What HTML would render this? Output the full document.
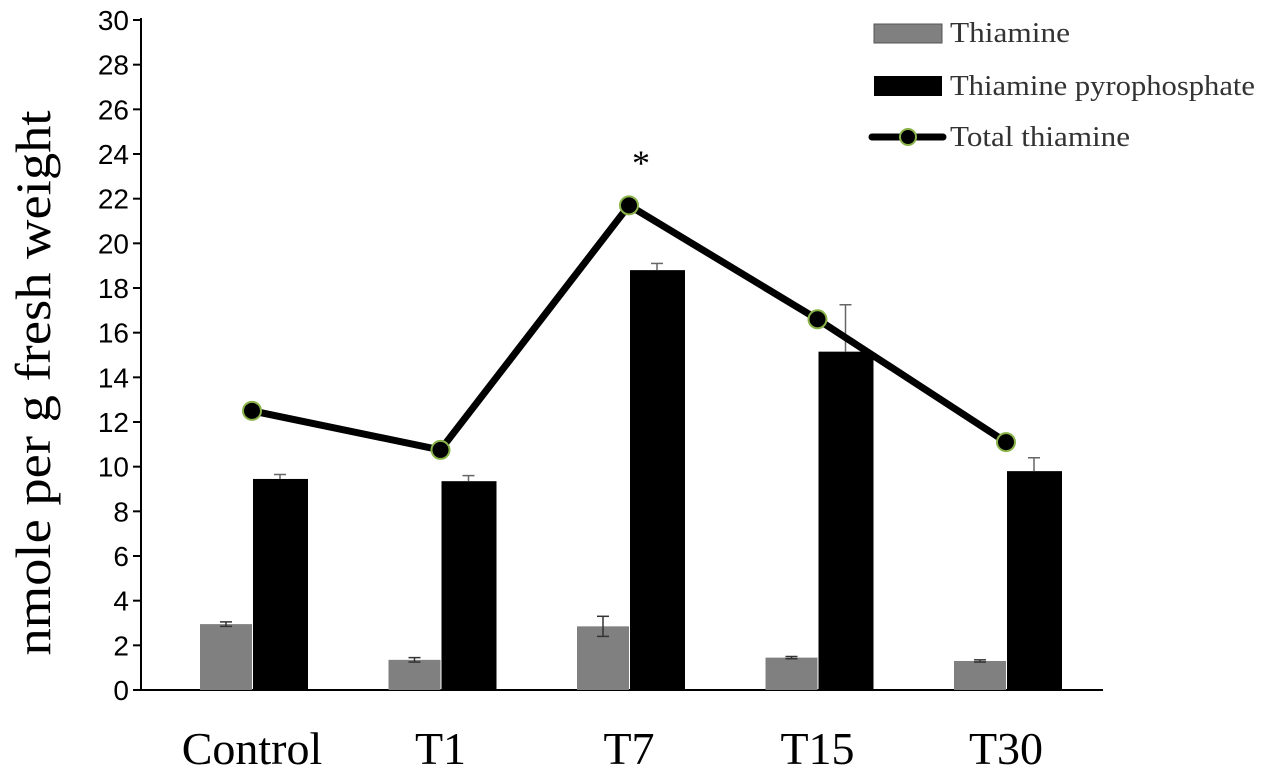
<!DOCTYPE html>
<html><head><meta charset="utf-8"><style>
body{margin:0;background:#fff;}
svg{display:block;font-family:"Liberation Serif",serif;}
.tick{font-family:"Liberation Sans",sans-serif;font-size:28px;}
</style></head><body>
<svg id="chart" width="1267" height="772">
<g id="axes"></g><g id="bars"></g><g id="line"></g>
<text x="641" y="175" font-size="36" text-anchor="middle">*</text>
<text transform="translate(50,383) rotate(-90)" font-size="50" text-anchor="middle" textLength="545" lengthAdjust="spacingAndGlyphs">nmole per g fresh weight</text>
<g>
<rect x="874" y="24" width="68" height="19" fill="#808080" stroke="#555" stroke-width="1"/>
<text x="950" y="42" font-size="28" fill="#333" textLength="120" lengthAdjust="spacingAndGlyphs">Thiamine</text>
<rect x="874" y="76" width="68" height="20" fill="#000"/>
<text x="950" y="95" font-size="28" fill="#333" textLength="305" lengthAdjust="spacingAndGlyphs">Thiamine pyrophosphate</text>
<line x1="872" y1="137" x2="943" y2="137" stroke="#000" stroke-width="7" stroke-linecap="round"/>
<circle cx="908" cy="137" r="8" fill="#000" stroke="#8ab34a" stroke-width="2"/>
<text x="950" y="146" font-size="28" fill="#333" textLength="180" lengthAdjust="spacingAndGlyphs">Total thiamine</text>
</g>
</svg>
<script>
const categories=["Control","T1","T7","T15","T30"];
const thiamine=[2.95,1.35,2.85,1.45,1.3];
const thiamineErr=[0.1,0.1,0.45,0.05,0.05];
const tpp=[9.45,9.35,18.8,15.15,9.8];
const tppErr=[0.2,0.25,0.3,2.1,0.6];
const total=[12.5,10.75,21.7,16.6,11.1];
const yTicks=[0,2,4,6,8,10,12,14,16,18,20,22,24,26,28,30];
const NS="http://www.w3.org/2000/svg";
const y=v=>690-v*22.333;
const xc=i=>252+i*188.5;
function mk(tag,attrs,parent){const e=document.createElementNS(NS,tag);for(const k in attrs)e.setAttribute(k,attrs[k]);document.getElementById(parent).appendChild(e);return e;}
let e=mk("line",{x1:141,y1:18,x2:141,y2:691,stroke:"#000","stroke-width":2},"axes");


e=mk("line",{x1:140,y1:690,x2:1103,y2:690,stroke:"#000","stroke-width":2},"axes");


yTicks.forEach(t=>{
 mk("line",{x1:133,y1:y(t),x2:141,y2:y(t),stroke:"#000","stroke-width":2},"axes");
 const tx=mk("text",{x:129,y:y(t)+10,"text-anchor":"end",class:"tick"},"axes");tx.textContent=t;
 
 
});
categories.forEach((c,i)=>{
 const tx=mk("text",{x:xc(i),y:764,"text-anchor":"middle","font-size":46},"axes");tx.textContent=c;
 
 
});
function err(cx,v,d,col,up){
 mk("line",{x1:cx,y1:y(v+d),x2:cx,y2:up?y(v):y(v-d),stroke:col,"stroke-width":1.5},"bars");
 mk("line",{x1:cx-6,y1:y(v+d),x2:cx+6,y2:y(v+d),stroke:col,"stroke-width":1.5},"bars");
 if(!up)mk("line",{x1:cx-6,y1:y(v-d),x2:cx+6,y2:y(v-d),stroke:col,"stroke-width":1.5},"bars");
}
categories.forEach((c,i)=>{
 const g=mk("rect",{x:xc(i)-52,y:y(thiamine[i]),width:52,height:690-y(thiamine[i]),fill:"#808080"},"bars");
 
 
 err(xc(i)-26,thiamine[i],thiamineErr[i],"#333",false);
 const b=mk("rect",{x:xc(i)+1,y:y(tpp[i]),width:55,height:690-y(tpp[i]),fill:"#000"},"bars");
 
 
 err(xc(i)+28,tpp[i],tppErr[i],"#666",true);
});
const pl=mk("polyline",{points:total.map((v,i)=>xc(i)+","+y(v)).join(" "),fill:"none",stroke:"#000","stroke-width":7,"stroke-linejoin":"round"},"line");


total.forEach((v,i)=>{
 const p=mk("circle",{cx:xc(i),cy:y(v),r:9,fill:"#000",stroke:"#8ab34a","stroke-width":2},"line");
 
 
});
</script>
</body></html>
